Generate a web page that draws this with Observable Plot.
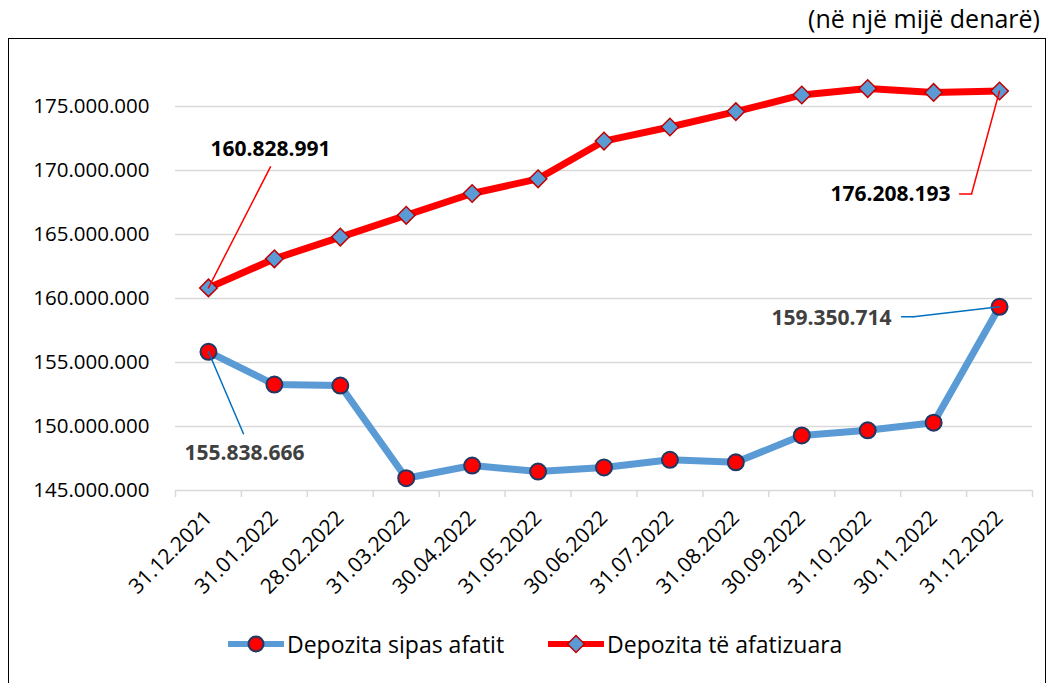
<!DOCTYPE html>
<html>
<head>
<meta charset="utf-8">
<script src="https://cdn.jsdelivr.net/npm/d3@7"></script>
<script src="https://cdn.jsdelivr.net/npm/@observablehq/plot@0.6"></script>
<style>
  html, body { margin: 0; padding: 0; background: #fff; }
  body { width: 1052px; height: 683px; position: relative; overflow: hidden; font-family: "Open Sans", sans-serif; }
  #unit { position: absolute; top: 2px; right: 12px; font-size: 25px; line-height: 32px; color: #000; }
  #frame { position: absolute; left: 8px; top: 38px; width: 1036px; height: 700px; border: 1px solid #000; }
  #legend { display: flex; align-items: center; padding-left: 219px; margin-top: 22px; font-size: 23px; color: #000; line-height: 26px; }
  #legend .item { display: flex; align-items: center; margin-right: 44px; }
  #legend svg { margin-right: 3px; }
</style>
</head>
<body>
<div id="unit">(në një mijë denarë)</div>
<div id="frame"><div id="chart"></div><div id="legend"></div></div>
<script>
const categories = ["31.12.2021","31.01.2022","28.02.2022","31.03.2022","30.04.2022","31.05.2022","30.06.2022","31.07.2022","31.08.2022","30.09.2022","31.10.2022","30.11.2022","31.12.2022"];
const depozitaSipasAfatit = [155838666,153280000,153200000,145960000,146950000,146480000,146800000,147400000,147200000,149300000,149700000,150300000,159350714];
const depozitaTeAfatizuara = [160828991,163100000,164800000,166500000,168200000,169350000,172300000,173400000,174600000,175900000,176400000,176100000,176208193];
const yTicks = [145000000,150000000,155000000,160000000,165000000,170000000,175000000];
const seriesNames = ["Depozita sipas afatit","Depozita të afatizuara"];

const fmt = d => d3.format(",")(d).replace(/,/g, ".");
const rows = categories.map((c, i) => ({date: c, a: depozitaSipasAfatit[i], b: depozitaTeAfatizuara[i]}));

const W = 1036, H = 570, ML = 166, MR = 13, MT = 3, MB = 119;
const step = (W - ML - MR) / categories.length;
const BLUE = "#5b9bd5", RED = "#ff0000";

const seg = {draw(ctx, l) { ctx.moveTo(0, 0); ctx.lineTo(0, -l); }};
function leader(d, key, ox, oy, color, extra = {}) {
  return Plot.vector([d], {x: "date", y: key, anchor: "start", length: Math.hypot(ox, oy),
    rotate: Math.atan2(ox, -oy) * 180 / Math.PI, shape: seg, stroke: color, strokeWidth: 1.5, ...extra});
}
function label(d, key, dx, dy, anchor, color) {
  return Plot.text([d], {x: "date", y: key, text: r => fmt(r[key]), dx, dy, textAnchor: anchor,
    fontWeight: "bold", fontSize: 21, fill: color});
}
const first = rows[0], last = rows[rows.length - 1];

const chart = Plot.plot({
  width: W, height: H, marginLeft: ML, marginRight: MR, marginTop: MT, marginBottom: MB,
  style: {fontFamily: "Open Sans", fontSize: "20px", color: "#000", background: "transparent"},
  x: {type: "point", domain: categories, padding: 0.5, round: false, label: null},
  y: {domain: [145000000, 180000000], label: null},
  marks: [
    Plot.ruleY(yTicks, {stroke: "#d9d9d9", strokeWidth: 1.5}),
    Plot.axisX(categories, {tickSize: 7, text: null, dx: -step / 2, stroke: "#d9d9d9", strokeWidth: 1.5, label: null}),
    Plot.axisX([categories[categories.length - 1]], {tickSize: 7, text: null, dx: step / 2, stroke: "#d9d9d9", strokeWidth: 1.5, label: null}),
    Plot.axisX({tickSize: 0, tickPadding: 24, tickRotate: -45, fontSize: 21, label: null}),
    Plot.axisY({ticks: yTicks, tickSize: 0, tickPadding: 26, tickFormat: fmt, fontSize: 20.5, label: null}),
    Plot.line(rows, {x: "date", y: "a", stroke: BLUE, strokeWidth: 7}),
    Plot.line(rows, {x: "date", y: "b", stroke: RED, strokeWidth: 7}),
    Plot.dot(rows, {x: "date", y: "a", r: 8, fill: RED, stroke: "#1f3864", strokeWidth: 2}),
    Plot.dot(rows, {x: "date", y: "b", symbol: "square", rotate: 45, r: 7, fill: BLUE, stroke: "#c00000", strokeWidth: 1.5}),
    leader(first, "b", 62, -121, RED),
    label(first, "b", 62, -139, "middle", "#000"),
    leader(last, "b", -28, 103, RED),
    leader(last, "b", 0, -12, RED, {dx: -28, dy: 103, rotate: -90, length: 12}),
    label(last, "b", -49, 103, "end", "#000"),
    leader(last, "a", -86, 10, "#0070c0"),
    leader(last, "a", 0, -12, "#0070c0", {dx: -86, dy: 10, rotate: -90, length: 12}),
    label(last, "a", -108, 11, "end", "#404040"),
    leader(first, "a", 35, 82, "#0070c0"),
    label(first, "a", 36, 102, "middle", "#404040")
  ]
});
document.getElementById("chart").appendChild(chart);

const legend = document.getElementById("legend");
const swatches = [
  `<svg width="56" height="24"><line x1="0" y1="12" x2="56" y2="12" stroke="${BLUE}" stroke-width="6"/><circle cx="28" cy="12" r="7.5" fill="${RED}" stroke="#1f3864" stroke-width="2"/></svg>`,
  `<svg width="56" height="24"><line x1="0" y1="12" x2="56" y2="12" stroke="${RED}" stroke-width="6"/><rect x="22" y="6" width="12" height="12" transform="rotate(45 28 12)" fill="${BLUE}" stroke="#c00000" stroke-width="1.5"/></svg>`
];
seriesNames.forEach((n, i) => {
  const it = document.createElement("div");
  it.className = "item";
  it.innerHTML = swatches[i] + `<span>${n}</span>`;
  legend.appendChild(it);
});
</script>
</body>
</html>
